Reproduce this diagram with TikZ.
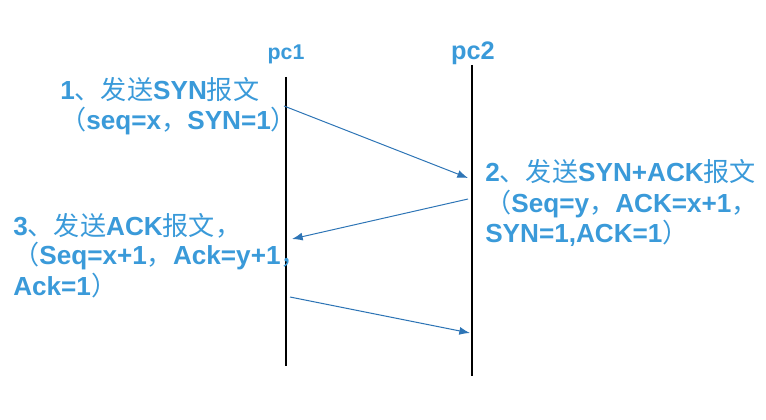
\documentclass[tikz,border=0pt]{standalone}
\usepackage{fontspec}
\setmainfont{Liberation Sans}
\newfontfamily\cjk{Noto Sans CJK SC}
\newcommand{\zh}[1]{{\cjk\mdseries #1}}
\usetikzlibrary{arrows.meta}
\definecolor{msgBlue}{HTML}{3A9AD9}
\definecolor{arrowBlue}{HTML}{2E75B6}
\begin{document}
\begin{tikzpicture}[x=0.75pt, y=-0.75pt, font=\fontsize{19.6}{23}\selectfont\bfseries]
        \tikzset{
            msgText/.style={text=msgBlue, anchor=base west, inner sep=0pt},
            pcLabel/.style={text=msgBlue, anchor=base, inner sep=0pt,
                font=\fontsize{16}{19}\selectfont\bfseries},
            lifeline/.style={draw=black, line width=0.9pt},
            msgArrow/.style={draw=arrowBlue, line width=0.75pt,
                -{Latex[length=8pt,width=6pt]}}
        }
        \useasboundingbox (0,0) rectangle (766,420);

        % hosts
        \node[pcLabel] (pcOneLabel) at (286,60) {pc1};
        \node[pcLabel, font=\fontsize{19}{22}\selectfont\bfseries] (pcTwoLabel) at (473,60) {pc2};
        \coordinate (pcOneTop) at (286,77);
        \coordinate (pcOneBottom) at (286,366);
        \coordinate (pcTwoTop) at (472,65);
        \coordinate (pcTwoBottom) at (472,376);
        \draw[lifeline] (pcOneTop) -- (pcOneBottom);
        \draw[lifeline] (pcTwoTop) -- (pcTwoBottom);

        % messages
        \coordinate (synStart) at (284,106);
        \coordinate (synEnd) at (468,178);
        \coordinate (synAckStart) at (468,199);
        \coordinate (synAckEnd) at (292,239);
        \coordinate (ackStart) at (290,297);
        \coordinate (ackEnd) at (470,333);
        \draw[msgArrow] (synStart) -- (synEnd);
        \draw[msgArrow] (synAckStart) -- (synAckEnd);
        \draw[msgArrow] (ackStart) -- (ackEnd);

        % labels
        \node[msgText] (synLineA) at (60,100) {1\zh{、发送}SYN\zh{报文}};
        \node[msgText] (synLineB) at (60,130) {\zh{（}seq=x\zh{，}SYN=1\zh{）}};

        \node[msgText] (synAckLineA) at (485,182) {2\zh{、发送}SYN+ACK\zh{报文}};
        \node[msgText] (synAckLineB) at (485,213) {\zh{（}Seq=y\zh{，}ACK=x+1\zh{，}};
        \node[msgText] (synAckLineC) at (485,242) {SYN=1,ACK=1\zh{）}};

        \node[msgText] (ackLineA) at (13,235) {3\zh{、发送}ACK\zh{报文，}};
        \node[msgText] (ackLineB) at (13,264) {\zh{（}Seq=x+1\zh{，}Ack=y+1\zh{，}};
        \node[msgText] (ackLineC) at (13,295) {Ack=1\zh{）}};
    \end{tikzpicture}
\end{document}
